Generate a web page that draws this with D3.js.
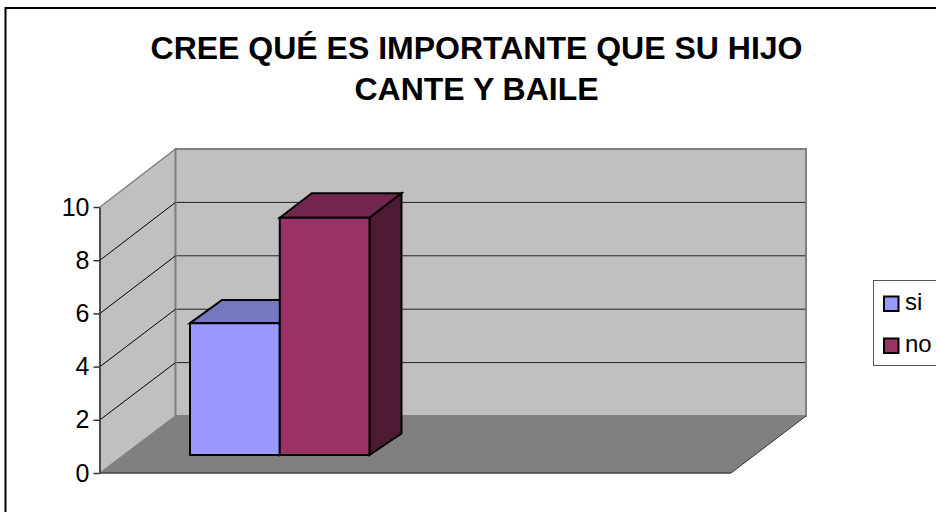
<!DOCTYPE html>
<html><head><meta charset="utf-8">
<style>html,body{margin:0;padding:0;background:#fff}svg{display:block}text{font-family:"Liberation Sans",Arial,sans-serif;fill:#000}</style>
<script src="https://cdn.jsdelivr.net/npm/d3@7"></script></head>
<body><script>
const titleLines = ["CREE QUÉ ES IMPORTANTE QUE SU HIJO", "CANTE Y BAILE"];
const seriesNames = ["si", "no"];
const seriesValues = [5, 9];
const seriesColors = ["#9999ff", "#993366"];
const seriesTops = ["#7777bf", "#73264d"];
const seriesSides = ["#5c5c99", "#4d1a33"];
const yTicks = [0, 2, 4, 6, 8, 10];

(function () {
const W = 936, H = 512;
const svg = d3.select("body").append("svg").attr("width", W).attr("height", H);
const y = d3.scaleLinear().domain([0, 10]).range([473, 207]);        // front of the left wall
const yBack = d3.scaleLinear().domain([0, 10]).range([416, 149]);    // back wall
const yBar = d3.scaleLinear().domain([0, 10]).range([455, 191.3]);   // bar front faces
const yBarBack = d3.scaleLinear().domain([0, 10]).range([433.5, 166.5]); // bar back faces
const frontX = [100, 731], backX = [175.5, 806];
const barDx = 32;
const x = d3.scaleBand().domain(seriesNames).range([190, 369.5]);
const poly = (pts, fill, stroke, sw) => svg.append("polygon")
  .attr("points", pts.map(p => p.join(",")).join(" "))
  .attr("fill", fill).attr("stroke", stroke || "none").attr("stroke-width", sw || 0)
  .attr("stroke-linejoin", "miter");
const line = (a, b, stroke, sw) => svg.append("line")
  .attr("x1", a[0]).attr("y1", a[1]).attr("x2", b[0]).attr("y2", b[1])
  .attr("stroke", stroke).attr("stroke-width", sw);

// chart frame
svg.append("rect").attr("x", 5.5).attr("y", 8).attr("width", 960).attr("height", 540)
  .attr("fill", "#fff").attr("stroke", "#000").attr("stroke-width", 2);

// title
svg.selectAll("text.title").data(titleLines).join("text").attr("class", "title")
  .attr("x", 476.5).attr("y", (d, i) => 58.5 + i * 41.5)
  .attr("text-anchor", "middle").attr("font-weight", "bold").style("font-size", "32px")
  .text(d => d);

// walls
poly([[frontX[0], y(0)], [backX[0], yBack(0)], [backX[0], yBack(10)], [frontX[0], y(10)]], "#c0c0c0", "#808080", 1.5);
poly([[backX[0], yBack(0)], [backX[1], yBack(0)], [backX[1], yBack(10)], [backX[0], yBack(10)]], "#c0c0c0", "#808080", 2);
poly([[frontX[0], y(0)], [frontX[1], y(0)], [backX[1], yBack(0)], [backX[0], yBack(0)]], "#808080");
line([frontX[0], y(0)], [frontX[1], y(0)], "#444", 1.5);
line([frontX[1], y(0)], [backX[1], yBack(0)], "#333", 1);

// gridlines
yTicks.filter(t => t > 0 && t < 10).forEach(t => {
  line([frontX[0], y(t)], [backX[0], yBack(t)], "#000", 1);
  line([backX[0] + 1, yBack(t)], [backX[1] - 1, yBack(t)], "#222", 1);
});

// value axis
const axis = svg.append("g").attr("transform", `translate(${frontX[0] - 0.5},0)`)
  .call(d3.axisLeft(y).tickValues(yTicks).tickSize(6).tickSizeOuter(0).tickPadding(4));
axis.select("path").attr("stroke", "#333").attr("stroke-width", 1.5);
axis.selectAll("line").attr("stroke", "#333").attr("stroke-width", 1.5);
axis.selectAll("text").style("font-size", "25px").attr("fill", "#000");

// bars
seriesNames.forEach((name, i) => {
  const l = x(name), r = l + x.bandwidth(), v = seriesValues[i];
  poly([[l, yBar(v)], [l + barDx, yBarBack(v)], [r + barDx, yBarBack(v)], [r, yBar(v)]], seriesTops[i], "#000", 2);
  poly([[r, yBar(0)], [r + barDx, yBarBack(0)], [r + barDx, yBarBack(v)], [r, yBar(v)]], seriesSides[i], "#000", 2);
  poly([[l, yBar(0)], [r, yBar(0)], [r, yBar(v)], [l, yBar(v)]], seriesColors[i], "#000", 2);
});

// legend
svg.append("rect").attr("x", 873.5).attr("y", 280.5).attr("width", 80).attr("height", 85)
  .attr("fill", "#fff").attr("stroke", "#555").attr("stroke-width", 1);
const ly = d3.scalePoint().domain(seriesNames).range([303.5, 345.5]);
seriesNames.forEach((name, i) => {
  svg.append("rect").attr("x", 884).attr("y", ly(name) - 7).attr("width", 14.5).attr("height", 14.5)
    .attr("fill", seriesColors[i]).attr("stroke", "#000").attr("stroke-width", 2);
  svg.append("text").attr("x", 905).attr("y", ly(name) + 6.5).style("font-size", "24px").text(name);
});
})();
</script></body></html>
